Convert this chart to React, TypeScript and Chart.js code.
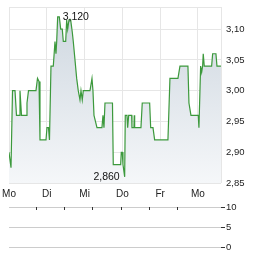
import { useEffect, useRef } from 'react';
import { Chart, registerables } from 'chart.js';

Chart.register(...registerables);

// X axis: trading days (0 = Monday)
const dayLabels = ['Mo', 'Di', 'Mi', 'Do', 'Fr', 'Mo'];
const dayTicks = [0, 1, 2, 3, 4, 5];
const xMax = 5.61;

// Price axis
const priceTicks = [2.85, 2.9, 2.95, 3.0, 3.05, 3.1];
const priceMin = 2.85;
const priceMax = 3.136;

// Price series (time in days, price)
const times = [
  0, 0.026, 0.053, 0.093, 0.159, 0.198, 0.265, 0.291, 0.331, 0.45,
  0.476, 0.516, 0.714, 0.754, 0.794, 0.82, 0.979, 1.005, 1.045, 1.071,
  1.111, 1.172, 1.217, 1.243, 1.262, 1.288, 1.331, 1.368, 1.41, 1.437,
  1.5, 1.526, 1.553, 1.587, 1.632, 1.675, 1.701, 1.746, 1.791, 1.833,
  1.878, 1.905, 1.939, 1.966, 2.143, 2.196, 2.222, 2.249, 2.328, 2.46,
  2.487, 2.513, 2.54, 2.738, 2.759, 2.955, 2.971, 2.997, 3.016, 3.061,
  3.077, 3.122, 3.14, 3.167, 3.246, 3.254, 3.307, 3.315, 3.325, 3.492,
  3.526, 3.722, 3.749, 3.81, 3.854, 4.206, 4.259, 4.471, 4.524, 4.735,
  4.762, 4.815, 5.008, 5.026, 5.071, 5.098, 5.124, 5.14, 5.167, 5.362,
  5.389, 5.476, 5.503, 5.608,
];
const prices = [
  2.9, 2.9, 2.875, 3.0, 3.0, 2.96, 2.96, 3.0, 2.96, 2.96,
  2.98, 3.0, 3.0, 3.02, 3.015, 2.92, 2.92, 2.94, 2.94, 2.92,
  3.04, 3.04, 3.08, 3.06, 3.08, 3.12, 3.12, 3.1, 3.1, 3.08,
  3.08, 3.115, 3.1, 3.115, 3.115, 3.095, 3.08, 3.05, 3.02, 3.0,
  2.985, 3.0, 2.985, 3.0, 3.0, 3.02, 3.0, 2.96, 2.94, 2.94,
  2.96, 2.94, 2.98, 2.98, 2.88, 2.88, 2.9, 2.9, 2.88, 2.86,
  2.96, 2.96, 2.94, 2.96, 2.96, 2.94, 2.94, 2.96, 2.94, 2.94,
  2.98, 2.98, 2.94, 2.94, 2.92, 2.92, 3.02, 3.02, 3.04, 3.04,
  2.98, 2.96, 2.96, 2.94, 3.04, 3.03, 3.04, 3.06, 3.04, 3.04,
  3.06, 3.06, 3.04, 3.04,
];

// Volume panel
const volumeTicks = [0, 5, 10];
const volumes: number[] = [];

const FONT = '"Liberation Sans", Arial, sans-serif';
const fmt2 = (v: number) => v.toFixed(2).replace('.', ',');
const fmt3 = (v: number) => v.toFixed(3).replace('.', ',');

const zeroPad = (s: any) => {
  s.paddingTop = 0;
  s.paddingBottom = 0;
  s.paddingLeft = 0;
  s.paddingRight = 0;
};

const extremesPlugin = {
  id: 'extremes',
  afterDatasetsDraw(chart: any) {
    const xs = chart.scales.x;
    const ys = chart.scales.y;
    let maxI = 0;
    let minI = 0;
    prices.forEach((p, i) => {
      if (p > prices[maxI]) maxI = i;
      if (p < prices[minI]) minI = i;
    });
    const ctx = chart.ctx;
    ctx.save();
    ctx.font = `10.5px ${FONT}`;
    ctx.fillStyle = '#111';
    ctx.textBaseline = 'middle';
    ctx.textAlign = 'left';
    ctx.fillText(fmt3(prices[maxI]), xs.getPixelForValue(times[maxI]) + 5, ys.getPixelForValue(prices[maxI]));
    ctx.textAlign = 'right';
    ctx.fillText(fmt3(prices[minI]), xs.getPixelForValue(times[minI]) - 5, ys.getPixelForValue(prices[minI]));
    ctx.restore();
  },
};

const dayMarksPlugin = {
  id: 'dayMarks',
  afterDraw(chart: any) {
    const xs = chart.scales.x;
    const top = chart.chartArea.top;
    const ctx = chart.ctx;
    ctx.save();
    ctx.strokeStyle = '#333';
    ctx.lineWidth = 1;
    dayTicks.forEach((d) => {
      const x = Math.round(xs.getPixelForValue(d)) + 0.5;
      ctx.beginPath();
      ctx.moveTo(x, top);
      ctx.lineTo(x, top + 3);
      ctx.stroke();
    });
    ctx.restore();
  },
};

export default function App() {
  const priceRef = useRef<HTMLCanvasElement>(null);
  const volRef = useRef<HTMLCanvasElement>(null);

  useEffect(() => {
    const priceChart = new Chart(priceRef.current!, {
      type: 'line',
      data: {
        datasets: [
          {
            data: times.map((t, i) => ({ x: t, y: prices[i] })),
            borderColor: '#3c993c',
            borderWidth: 1.2,
            pointRadius: 0,
            tension: 0,
            fill: 'start',
            backgroundColor: (c: any) => {
              const area = c.chart.chartArea;
              if (!area) return '#e3e8ed';
              const g = c.chart.ctx.createLinearGradient(0, area.top, 0, area.bottom);
              g.addColorStop(0, '#cdd6df');
              g.addColorStop(1, '#f5f7f9');
              return g;
            },
          },
        ],
      },
      options: {
        responsive: false,
        animation: false,
        layout: { padding: { top: 7, left: 9, right: 0, bottom: 0 } },
        plugins: { legend: { display: false }, tooltip: { enabled: false } },
        scales: {
          x: {
            type: 'linear',
            min: 0,
            max: xMax,
            afterBuildTicks: (s: any) => {
              s.ticks = [...dayTicks, xMax].map((v) => ({ value: v }));
            },
            afterFit: (s: any) => {
              s.height = 17;
              zeroPad(s);
            },
            grid: { color: '#e6e6e6', drawTicks: false },
            border: { display: false },
            ticks: {
              autoSkip: false,
              maxRotation: 0,
              padding: 5,
              color: '#222',
              font: { family: FONT, size: 10 },
              callback: (v: any) => {
                const i = dayTicks.indexOf(Number(v));
                return i >= 0 ? dayLabels[i] : '';
              },
            },
          },
          y: {
            position: 'right',
            min: priceMin,
            max: priceMax,
            afterBuildTicks: (s: any) => {
              s.ticks = [...priceTicks, priceMax].map((v) => ({ value: v }));
            },
            afterFit: (s: any) => {
              s.width = 43;
              zeroPad(s);
            },
            grid: { color: '#e6e6e6', drawTicks: false },
            border: { display: false },
            ticks: {
              padding: 5,
              color: '#222',
              font: { family: FONT, size: 9.5 },
              callback: (v: any) => (priceTicks.includes(Number(v)) ? fmt2(Number(v)) : ''),
            },
          },
        },
      },
      plugins: [extremesPlugin],
    });

    const volChart = new Chart(volRef.current!, {
      type: 'bar',
      data: {
        datasets: [
          {
            data: volumes.map((v, i) => ({ x: times[i], y: v })),
            backgroundColor: '#3c993c',
          },
        ],
      },
      options: {
        responsive: false,
        animation: false,
        layout: { padding: { top: 7, left: 9, right: 0, bottom: 8 } },
        plugins: { legend: { display: false }, tooltip: { enabled: false } },
        scales: {
          x: { type: 'linear', min: 0, max: xMax, display: false },
          y: {
            position: 'right',
            min: 0,
            max: 10,
            afterBuildTicks: (s: any) => {
              s.ticks = volumeTicks.map((v) => ({ value: v }));
            },
            afterFit: (s: any) => {
              s.width = 43;
              zeroPad(s);
            },
            grid: { color: '#cccccc', tickColor: '#333', tickLength: 4, drawTicks: true },
            border: { display: false },
            ticks: {
              padding: 1,
              color: '#222',
              font: { family: FONT, size: 9.5 },
              callback: (v: any) => String(v),
            },
          },
        },
      },
      plugins: [dayMarksPlugin],
    });

    return () => {
      priceChart.destroy();
      volChart.destroy();
    };
  }, []);

  return (
    <div style={{ position: 'absolute', left: 0, top: 0, width: 264, height: 255, background: '#fff' }}>
      <canvas ref={priceRef} width={264} height={200} style={{ position: 'absolute', left: 0, top: 0, width: 264, height: 200 }} />
      <canvas ref={volRef} width={264} height={55} style={{ position: 'absolute', left: 0, top: 200, width: 264, height: 55 }} />
    </div>
  );
}
